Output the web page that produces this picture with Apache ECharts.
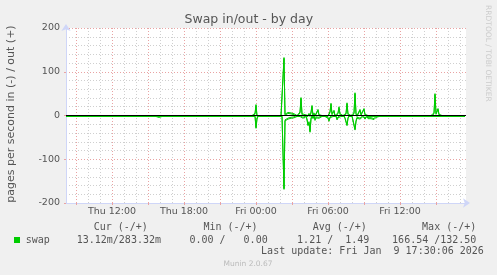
<!DOCTYPE html>
<html><head><meta charset="utf-8">
<script src="https://cdn.jsdelivr.net/npm/echarts@6/dist/echarts.min.js"></script>
<style>html,body{margin:0;padding:0;background:#f0f0f0}#c{width:497px;height:275px}</style>
</head><body><div id="c"></div>
<script>
const chartTitle = 'Swap in/out - by day';
const yAxisTitle = 'pages per second in (-) / out (+)';
const seriesName = 'swap';
// x axis in hours since Thu 00:00; one sample every 5 minutes from Thu 08:10
const startHour = 8 + 10 / 60;
const endHour = 41.5;
const stepHours = 5 / 60;

const outValues = [
  0,0,0,0,0,0,0,0,0,0, 0,0,0,0,0,0,0,0,0,0,
  0,0,0,0,0,0,0,0,0,0, 0,2,0,0,0,0,0,0,0,0,
  0,0,0,0,0,0,0,0,0,0, 0,0,0,0,0,0,0,0,0,0,
  0,0,0,0,0,0,0,0,0,0, 0,0,0,0,0,0,0,0,0,0,
  0,0,0,0,0,0,0,0,0,0, 0,0,0,0,0,0,0,0,0,0,
  0,0,0,0,0,0,0,0,0,0, 0,0,0,0,0,0,0,0,0,0,
  0,0,0,0,0,0,0,0,0,0, 0,0,0,0,0,0,0,0,0,0,
  0,0,0,0,0,0,0,0,0,0, 0,0,0,0,0,0,0,0,0,0,
  0,0,0,0,0,0,0,0,0,0, 0,0,0,0,0,0,0,0,0,0,
  0,0,0,0,0,0,0,0,0,5, 25,0,0,0,0,0,0,0,0,0,
  0,0,0,0,0,0,0,0,0,0, 0,0,0,0,0,0,0,0,132.5,3,
  5,6,7,6,5,6,5,4,4,3, 2,0,0,3,8,41,4,0,3,2,
  0,0,0,5,0,8,23,0,6,0, 3,0,14,2,0,0,0,0,0,0,
  0,0,0,3,9,28,4,5,12,0, 3,0,6,20,4,2,0,0,0,0,
  5,29,4,0,0,0,0,0,6,52, 5,0,0,4,14,3,5,6,16,3,
  0,0,0,0,0,0,0,0,0,0, 0,0,0,0,0,0,0,0,0,0,
  0,0,0,0,0,0,0,0,0,0, 0,0,0,0,0,0,0,0,0,0,
  0,0,0,0,0,0,0,0,0,0, 0,0,0,0,0,0,0,0,0,0,
  0,0,0,0,0,0,0,0,6,50, 5,3,16,3,0,0,0,0,0,0,
  0,0,0,0,0,0,0,0,0,0, 0,0,0,0,0,0,0,0,0,0
];
const inValues = [
  0,0,0,0,0,0,0,0,0,0, 0,0,0,0,0,0,0,0,0,0,
  0,0,0,0,0,0,0,0,0,0, 0,0,0,0,0,0,0,0,0,0,
  0,0,0,0,0,0,0,0,0,0, 0,0,0,0,0,0,0,0,0,0,
  0,0,0,0,0,0,0,0,0,0, 0,0,0,0,0,0,0,0,0,0,
  0,0,0,0,0,0,0,0,0,0, 0,0,0,2,0,0,0,0,0,0,
  0,0,0,0,0,0,0,0,0,0, 0,0,0,0,0,0,0,0,0,0,
  0,0,0,0,0,0,0,0,0,0, 0,0,0,0,0,0,0,0,0,0,
  0,0,0,0,0,0,0,0,0,0, 0,0,0,0,0,0,0,0,0,0,
  0,0,0,0,0,0,0,0,0,0, 0,0,0,0,0,0,0,0,0,0,
  0,0,0,0,0,0,0,0,0,0, 27,6,0,0,0,0,0,0,0,0,
  0,0,0,0,0,0,0,0,0,0, 0,0,0,0,0,0,0,0,166.54,10,
  8,7,6,5,5,4,4,3,3,2, 2,0,0,0,0,3,0,4,6,3,
  0,8,21,14,36,6,0,5,0,9, 3,3,0,4,0,0,0,0,0,0,
  0,0,4,11,3,0,6,0,0,3, 0,8,3,0,3,0,0,0,0,5,
  3,21,5,0,0,0,0,0,0,31, 12,4,8,0,6,6,3,0,0,6,
  4,0,5,4,6,5,4,3,7,5, 2,0,0,0,0,0,0,0,0,0,
  0,0,0,0,0,0,0,0,0,0, 0,0,0,0,0,0,0,0,0,0,
  0,0,0,0,0,0,0,0,0,0, 0,0,0,0,0,0,0,0,0,0,
  0,0,0,0,0,0,0,0,0,2, 0,0,2,0,0,0,0,0,0,0,
  0,0,0,0,0,0,0,0,0,0, 0,0,0,0,0,0,0,0,0,0
];

const hourTicks = [9,10,11,12,13,14,15,16,17,18,19,20,21,22,23,24,25,26,27,28,29,30,31,32,33,34,35,36,37,38,39,40,41];
const majorTicks = [9,12,15,18,21,24,27,30,33,36,39];
const labelTicks = [12,18,24,30,36];
const tickLabels = ['Thu 12:00','Thu 18:00','Fri 00:00','Fri 06:00','Fri 12:00'];

const legendHeaders = ['Cur (-/+)','Min (-/+)','Avg (-/+)','Max (-/+)'];
const legendValues = ['13.12m/283.32m','0.00 /   0.00','1.21 /  1.49','166.54 /132.50'];
const lastUpdate = 'Last update: Fri Jan  9 17:30:06 2026';
const footer = 'Munin 2.0.67';
const sideText = 'RRDTOOL / TOBI OETIKER';

const GREEN = '#00cc00';
const FONT = '#555555';
const AXIS = '#CFD6F8';
const MAJOR = '#e9a3a3';
const MINOR = '#cfcfcf';
const MONO = "'DejaVu Sans Mono', monospace";
const SANS = "'DejaVu Sans', sans-serif";

const outData = outValues.map((v, i) => [startHour + i * stepHours, v]);
const inData = inValues.map((v, i) => [startHour + i * stepHours, -v]);

const headerX = [93.7, 203.4, 312.7, 422.1];
const valueX = [76.7, 189.4, 297.1, 392.1];

const graphics = [
  {type:'text', x:248.8, y:19.3, style:{text:chartTitle, fill:FONT, font:"12.5px " + SANS, textAlign:'center', textVerticalAlign:'middle'}},
  {type:'text', x:11.5, y:114, rotation:Math.PI/2, style:{text:yAxisTitle, fill:FONT, font:"11px " + SANS, textAlign:'center', textVerticalAlign:'middle'}},
  {type:'text', x:487.5, y:53.4, rotation:-Math.PI/2, style:{text:sideText, fill:'#cccccc', font:"7.5px " + SANS, textAlign:'center', textVerticalAlign:'middle'}},
  {type:'rect', shape:{x:14, y:237, width:6, height:6}, style:{fill:GREEN}},
  {type:'text', x:25.7, y:240, style:{text:seriesName, fill:FONT, font:"10px " + MONO, textAlign:'left', textVerticalAlign:'middle'}},
  {type:'text', x:261.1, y:251.7, style:{text:lastUpdate, fill:FONT, font:"10px " + MONO, textAlign:'left', textVerticalAlign:'middle'}},
  {type:'text', x:248, y:264, style:{text:footer, fill:'#bbbbbb', font:"7.5px " + SANS, textAlign:'center', textVerticalAlign:'middle'}}
];
legendHeaders.forEach((h, k) => graphics.push({type:'text', x:headerX[k], y:227.3, style:{text:h, fill:FONT, font:"10px " + MONO, textAlign:'left', textVerticalAlign:'middle'}}));
legendValues.forEach((h, k) => graphics.push({type:'text', x:valueX[k], y:240, style:{text:h, fill:FONT, font:"10px " + MONO, textAlign:'left', textVerticalAlign:'middle'}}));

const chart = echarts.init(document.getElementById('c'), null, {renderer:'canvas'});
chart.setOption({
  animation:false,
  backgroundColor:'#f0f0f0',
  grid:{left:66, right:31, top:28, bottom:72, show:true, backgroundColor:'#ffffff', borderWidth:0},
  xAxis:[
    {type:'value', min:startHour, max:endHour, position:'bottom',
     axisLine:{show:false, onZero:false}, axisLabel:{show:false},
     axisTick:{show:false, customValues:hourTicks},
     splitLine:{show:true, lineStyle:{color:MINOR, width:1, type:[1,2]}}},
    {type:'value', min:startHour, max:endHour, position:'bottom',
     axisLine:{show:true, onZero:false, lineStyle:{color:AXIS, width:1}, symbol:['none','arrow'], symbolSize:[7,7], symbolOffset:[0,4]},
     axisTick:{show:true, length:2, customValues:majorTicks, lineStyle:{color:MAJOR}},
     axisLabel:{show:true, customValues:labelTicks, margin:4, color:FONT, fontSize:9.5, fontFamily:SANS,
       formatter:v => tickLabels[labelTicks.indexOf(Math.round(v))]},
     splitLine:{show:true, lineStyle:{color:MAJOR, width:1, type:[1,2]}}}
  ],
  yAxis:{type:'value', min:-200, max:200, interval:100,
    axisLine:{show:true, onZero:false, lineStyle:{color:AXIS, width:1}, symbol:['none','arrow'], symbolSize:[7,7], symbolOffset:[0,4]},
    axisTick:{show:true, length:2, lineStyle:{color:MAJOR}},
    axisLabel:{color:FONT, fontSize:9.5, fontFamily:SANS, margin:6},
    splitLine:{show:true, lineStyle:{color:MAJOR, width:1, type:[1,2]}},
    minorTick:{show:false, splitNumber:5},
    minorSplitLine:{show:true, lineStyle:{color:MINOR, width:1, type:[1,2]}}},
  graphic:graphics,
  series:[
    {name:seriesName, type:'line', xAxisIndex:0, data:inData, showSymbol:false, symbol:'none',
     lineStyle:{color:GREEN, width:1, shadowColor:GREEN, shadowOffsetY:1, shadowBlur:0}, z:2},
    {name:seriesName, type:'line', xAxisIndex:0, data:outData, showSymbol:false, symbol:'none',
     lineStyle:{color:GREEN, width:1, shadowColor:GREEN, shadowOffsetY:1, shadowBlur:0}, z:2,
     markLine:{silent:true, symbol:['none','none'], label:{show:false}, animation:false,
       lineStyle:{color:'#000000', width:1, type:'solid'}, data:[{yAxis:0}]}}
  ]
});
</script></body></html>
